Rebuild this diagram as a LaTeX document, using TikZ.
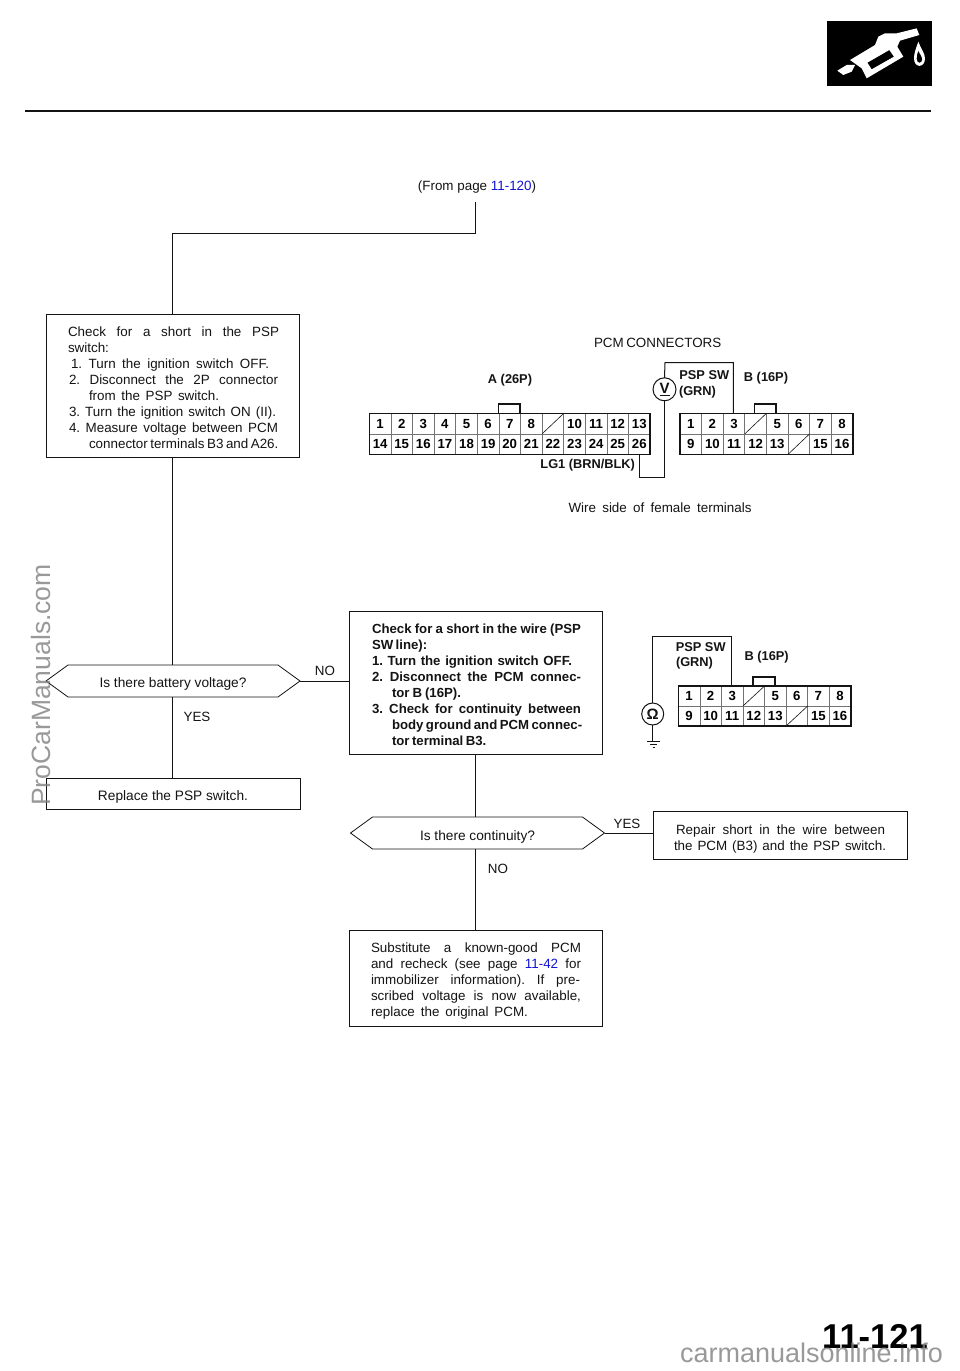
\documentclass[tikz,border=0pt]{standalone}
\usepackage{fontspec}
\setmainfont{Liberation Sans}
\usetikzlibrary{shapes.symbols}
\definecolor{linkblue}{RGB}{20,20,215}
\definecolor{ink}{gray}{0.08}
\newcommand{\szt}{\fontsize{13.4}{16}\selectfont\frenchspacing}
\newcommand{\szq}{\fontsize{13.7}{16}\selectfont\frenchspacing}
\newcommand{\szb}{\fontsize{13.2}{16}\selectfont\bfseries\frenchspacing}
\newcommand{\szl}{\fontsize{12.8}{14}\selectfont\bfseries}
\newcommand{\szn}{\fontsize{13.2}{14}\selectfont\bfseries}
\newlength{\bw}
\newcommand{\tlin}[3]{\hbox to \bw{\kern#1pt\makebox[#2pt][s]{#3}\hss}}
\newcommand{\blockt}[3]{\setlength{\bw}{#1pt}\vbox{\kern#2pt\baselineskip=16pt\lineskiplimit=-20pt #3}}
\newcommand{\dnt}[2]{\vbox{\kern#1pt\hbox{#2}}}
\newcommand{\blue}[1]{\textcolor{linkblue}{#1}}
\tikzset{
  x=1pt,y=-1pt,
  wire/.style={draw=ink,line width=0.75pt,line join=miter},
  box/.style={draw=ink,line width=0.8pt,rectangle,inner sep=0pt,outer sep=0pt,text=ink},
  txtlabel/.style={inner sep=0pt,outer sep=0pt,text=ink,font=\szt},
  clabel/.style={inner sep=0pt,outer sep=0pt,text=ink,font=\szl},
  question/.style={draw=ink,line width=0.8pt,signal,signal to=west and east,signal pointer angle=72,inner sep=0pt,outer sep=0pt,minimum width=254pt,minimum height=32pt,text=ink,font=\szq},
  pincell/.style={draw=black!55,line width=0.7pt,rectangle,inner sep=0pt,outer sep=0pt,minimum width=21.6pt,minimum height=20.5pt,font=\szn,text=black},
  meter/.style={draw=ink,line width=1pt,circle,inner sep=0pt,outer sep=0pt,fill=white,text=ink},
  shell/.style={draw=ink,line width=1.6pt},
  diagline/.style={draw=ink,line width=0.6pt},
  wmk/.style={inner sep=0pt,text=gray,opacity=0.8}
}
\begin{document}
\begin{tikzpicture}
\useasboundingbox (0,0) rectangle (960,1371);
\fill[white] (0,0) rectangle (960,1371);
% header
\draw[ink,line width=2pt] (25,111) -- (931,111);
\fill[black] (827,21) rectangle (932,86);
\begin{scope}[shift={(810,10)},x=0.3333pt,y=-0.3333pt]
  \fill[white] (82,182) -- (110,165) -- (135,165) -- (125,185) -- (100,195) -- cycle;
  \fill[white,even odd rule] (120,150) -- (195,105) -- (205,80) -- (225,70) -- (260,70) -- (320,55) -- (328,75) -- (270,92) -- (262,110) -- (280,140) -- (170,205) -- (155,175) -- cycle
     (172,158) -- (238,120) -- (252,140) -- (185,178) -- cycle;
  \fill[white,even odd rule] (325,95) .. controls (318,115) and (312,130) .. (312,145) .. controls (312,175) and (345,175) .. (345,145) .. controls (345,130) and (332,115) .. (325,95) -- cycle
     (325,122) .. controls (320,135) and (320,140) .. (320,147) .. controls (320,162) and (337,162) .. (337,147) .. controls (337,140) and (331,135) .. (325,122) -- cycle;
\end{scope}

% flow chart
\node[txtlabel] (from) at (477,187) {(From page \blue{11-120})};
\coordinate (fromend) at (475,202);
\node[box,minimum width=253pt,minimum height=143pt] (check) at (172.5,385.5) {\szt\blockt{253}{4}{%
 \tlin{22}{211}{Check for a short in the PSP}
 \tlin{22}{44}{switch:}
 \tlin{25}{198}{1. Turn the ignition switch OFF.}
 \tlin{23}{209}{2. Disconnect the 2P connector}
 \tlin{43}{130}{from the PSP switch.}
 \tlin{23}{207}{3. Turn the ignition switch ON (II).}
 \tlin{23}{209}{4. Measure voltage between PCM}
 \tlin{43}{188}{connector terminals B3 and A26.}}};
\node[question] (q1) at (173,681) {\dnt{6}{Is there battery voltage?}};
\node[box,minimum width=254pt,minimum height=31pt,font=\szq] (replace) at (173,793.5) {\dnt{7}{Replace the PSP switch.}};
\node[box,minimum width=253pt,minimum height=143pt] (wirechk) at (475.5,682.5) {\szb\blockt{253}{4}{%
 \tlin{23}{209}{Check for a short in the wire (PSP}
 \tlin{23}{55}{SW line):}
 \tlin{23}{200}{1. Turn the ignition switch OFF.}
 \tlin{23}{209}{2. Disconnect the PCM connec-}
 \tlin{43}{69}{tor B (16P).}
 \tlin{23}{209}{3. Check for continuity between}
 \tlin{43}{189}{body ground and PCM connec-}
 \tlin{43}{93}{tor terminal B3.}}};
\node[question] (q2) at (477.5,833) {\dnt{7}{Is there continuity?}};
\node[box,minimum width=254pt,minimum height=48pt] (repair) at (780,835) {\szt\blockt{254}{8}{%
 \tlin{23}{209}{Repair short in the wire between}
 \tlin{21}{212}{the PCM (B3) and the PSP switch.}}};
\node[box,minimum width=253pt,minimum height=96pt] (subst) at (475.5,978) {\szt\blockt{253}{6}{%
 \tlin{22}{210}{Substitute a known-good PCM}
 \tlin{22}{210}{and recheck (see page \blue{11-42} for}
 \tlin{22}{209}{immobilizer information). If pre-}
 \tlin{22}{210}{scribed voltage is now available,}
 \tlin{22}{157}{replace the original PCM.}}};
\node[txtlabel] (lno1) at (325,671) {NO};
\node[txtlabel] (lyes1) at (197,717) {YES};
\node[txtlabel] (lyes2) at (627,824) {YES};
\node[txtlabel] (lno2) at (498,869) {NO};

\coordinate (checktop) at (172,314);
\coordinate (checkbot) at (172,457);
\coordinate (q1top) at (172,665);
\coordinate (q1bot) at (172,697);
\coordinate (reptop) at (172,778);
\coordinate (wbot) at (475,754);
\coordinate (q2top) at (475,817);
\coordinate (q2bot) at (475,849);
\coordinate (substtop) at (475,930);
\draw[wire] (fromend) |- (checktop |- 0,233) -- (checktop);
\draw[wire] (checkbot) -- (q1top);
\draw[wire] (q1bot) -- (reptop);
\draw[wire] (q1.east) -- (q1.east -| wirechk.west);
\draw[wire] (wbot) -- (q2top);
\draw[wire] (q2.east) -- (q2.east -| repair.west);
\draw[wire] (q2bot) -- (substtop);

% PCM connectors
\node[txtlabel] (pcmc) at (656.5,343) {\makebox[125pt][s]{PCM CONNECTORS}};
\node[txtlabel] (wires) at (660,508) {\makebox[183pt][s]{Wire side of female terminals}};
\node[clabel] (a26) at (510,380) {A (26P)};
\node[clabel] (b16) at (766,378) {B (16P)};
\node[clabel] (psp) at (704.3,375.5) {PSP SW};
\node[clabel,anchor=west] (grn) at (679,391.7) {(GRN)};
\node[clabel,anchor=east] (lg1) at (635,465.5) {LG1 (BRN/BLK)};

% connector A
\draw[shell] (498.3,413.3) -- (498.3,404) -- (520,404) -- (520,413.3);
\foreach \n/\t [count=\i from 0] in {a1/1,a2/2,a3/3,a4/4,a5/5,a6/6,a7/7,a8/8,a9/,a10/10,a11/11,a12/12,a13/13}
  \node[pincell] (\n) at ({380.1+21.6*\i},423.6) {\t};
\foreach \n/\t [count=\i from 0] in {a14/14,a15/15,a16/16,a17/17,a18/18,a19/19,a20/20,a21/21,a22/22,a23/23,a24/24,a25/25,a26p/26}
  \node[pincell] (\n) at ({380.1+21.6*\i},444.1) {\t};
\draw[shell] (369.3,413.3) rectangle (650.1,454.4);
\draw[diagline] (a9.south west) -- (a9.north east);

% connector B
\draw[shell] (754.3,413.3) -- (754.3,404) -- (776,404) -- (776,413.3);
\foreach \n/\t [count=\i from 0] in {b1/1,b2/2,b3/3,b4/,b5/5,b6/6,b7/7,b8/8}
  \node[pincell] (\n) at ({690.8+21.6*\i},423.6) {\t};
\foreach \n/\t [count=\i from 0] in {b9/9,b10/10,b11/11,b12/12,b13/13,b14/,b15/15,b16p/16}
  \node[pincell] (\n) at ({690.8+21.6*\i},444.1) {\t};
\draw[shell] (680,413.3) rectangle (852.8,454.4);
\draw[diagline] (b4.south west) -- (b4.north east);
\draw[diagline] (b14.south west) -- (b14.north east);

% voltmeter wiring
\node[meter,minimum size=23pt,font=\fontsize{15}{15}\selectfont\bfseries] (vm) at (664.5,389.3) {\underline{V}};
\coordinate (vtop) at (665,362.7);
\coordinate (b3pin) at (733.3,413.3);
\coordinate (vbot) at (664.5,477.7);
\coordinate (a26pin) at (639.3,454.4);
\draw[wire,line width=1pt] (b3pin) |- (vtop) -- (vm.north);
\draw[wire,line width=1pt] (vm.south) -- (vbot) -| (a26pin);

% second connector
\draw[shell] (752.7,686) -- (752.7,676.7) -- (775,676.7) -- (775,686);
\foreach \n/\t [count=\i from 0] in {c1/1,c2/2,c3/3,c4/,c5/5,c6/6,c7/7,c8/8}
  \node[pincell,minimum height=20pt] (\n) at ({689.1+21.55*\i},696) {\t};
\foreach \n/\t [count=\i from 0] in {c9/9,c10/10,c11/11,c12/12,c13/13,c14/,c15/15,c16/16}
  \node[pincell,minimum height=20pt] (\n) at ({689.1+21.55*\i},716) {\t};
\draw[shell] (678.3,686) rectangle (850.7,726);
\draw[diagline] (c4.south west) -- (c4.north east);
\draw[diagline] (c14.south west) -- (c14.north east);
\node[clabel] (psp2) at (700.7,646.7) {PSP SW};
\node[clabel,anchor=west] (grn2) at (676,662.7) {(GRN)};
\node[clabel] (b162) at (766.7,656.7) {B (16P)};
\node[meter,minimum size=22pt,font=\fontsize{15}{15}\selectfont\bfseries] (om) at (652.7,714) {Ω};
\coordinate (c3pin) at (731.7,686);
\coordinate (otop) at (652.7,636);
\coordinate (gnd) at (652.7,741);
\draw[wire,line width=1pt] (c3pin) |- (otop) -- (om.north);
\draw[wire,line width=1pt] (om.south) -- (gnd);
\draw[wire] (647.3,741) -- (660,741) (650,744) -- (657.3,744) (652.7,747) -- (655.3,747);

% page number and marks
\node[inner sep=0pt,font=\fontsize{34.5}{34}\selectfont\bfseries,text=black] (pageno) at (875,1336) {11-121};
\node[wmk,font=\fontsize{26.5}{27}\selectfont,rotate=90] (wm1) at (41,685) {ProCarManuals.com};
\node[wmk,font=\fontsize{27}{27}\selectfont,anchor=base] (wm2) at (811.5,1362) {carmanualsonline.info};
\end{tikzpicture}
\end{document}
